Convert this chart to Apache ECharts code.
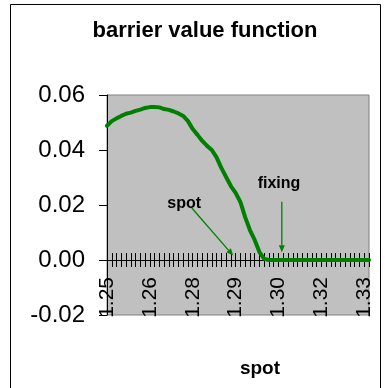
<!DOCTYPE html>
<html>
<head>
<meta charset="utf-8">
<script src="https://cdn.jsdelivr.net/npm/echarts@6/dist/echarts.min.js"></script>
<style>
html,body{margin:0;padding:0;background:#fff;}
#chart{width:385px;height:388px;}
</style>
</head>
<body>
<div id="chart"></div>
<script>
// category values (spot levels)
var categories = [
  1.2500, 1.2515, 1.2530, 1.2545, 1.2560, 1.2575, 1.2590, 1.2605, 1.2620, 1.2635,
  1.2650, 1.2665, 1.2680, 1.2695, 1.2710, 1.2725, 1.2740, 1.2755, 1.2770, 1.2785,
  1.2800, 1.2815, 1.2830, 1.2845, 1.2860, 1.2875, 1.2890, 1.2905, 1.2920, 1.2935,
  1.2950, 1.2965, 1.2980, 1.2995, 1.3010, 1.3025, 1.3040, 1.3055, 1.3070, 1.3085,
  1.3100, 1.3115, 1.3130, 1.3145, 1.3160, 1.3175, 1.3190, 1.3205, 1.3220, 1.3235,
  1.3250, 1.3265, 1.3280, 1.3295, 1.3310, 1.3325
];
// barrier value
var barrierValues = [
  0.0488, 0.0505, 0.0515, 0.0524, 0.0532, 0.0536, 0.0542, 0.0547, 0.0553, 0.0556,
  0.0556, 0.0555, 0.0549, 0.0546, 0.0540, 0.0533, 0.0524, 0.0505, 0.0476, 0.0455,
  0.0433, 0.0415, 0.0400, 0.0373, 0.0335, 0.0302, 0.0269, 0.0244, 0.0211, 0.0156,
  0.0109, 0.0073, 0.0029, 0.0004, 0, 0, 0, 0, 0, 0,
  0, 0, 0, 0, 0, 0, 0, 0, 0, 0,
  0, 0, 0, 0, 0, 0
];
var yMin = -0.02, yMax = 0.06, yStep = 0.02;
// annotations in data units: [category index, value]
var spotLabelPos = [16.2, 0.0204];
var spotArrow = [[17.8, 0.0189], [26.5, 0.0016]];
var fixingLabelPos = [36.1, 0.0277];
var fixingArrow = [[36.7, 0.0212], [36.7, 0.0028]];

var FONT = 'Liberation Sans, Arial, sans-serif';
var GRID_H = 220;
// the category axis crosses the value axis at 0
var zeroOffset = -GRID_H * (0 - yMin) / (yMax - yMin);

var chart = echarts.init(document.getElementById('chart'), null, {renderer: 'canvas'});

var option = {
  backgroundColor: '#ffffff',
  animation: false,
  title: [
    {text: 'barrier value function', left: 205, top: 20, textAlign: 'center', padding: 0,
     textStyle: {fontFamily: FONT, fontSize: 22, fontWeight: 'bold', color: '#000'}},
    {text: 'spot', left: 260, top: 359, textAlign: 'center', padding: 0,
     textStyle: {fontFamily: FONT, fontSize: 19, fontWeight: 'bold', color: '#000'}}
  ],
  grid: {
    left: 107, top: 95, width: 262, height: GRID_H,
    show: true, backgroundColor: '#C0C0C0', borderColor: '#808080', borderWidth: 1,
    containLabel: false
  },
  xAxis: [
    {
      type: 'category', data: categories, boundaryGap: false, position: 'bottom',
      offset: zeroOffset,
      axisLine: {onZero: false, lineStyle: {color: '#000', width: 1}},
      axisTick: {show: true, interval: 0, length: 7, inside: false, lineStyle: {color: '#000'}},
      axisLabel: {
        show: true, interval: 8, rotate: 90, margin: 17,
        fontFamily: FONT, fontSize: 21, color: '#000',
        formatter: function (v) { return Number(v).toFixed(2); }
      },
      splitLine: {show: false}
    },
    {
      type: 'category', data: categories, boundaryGap: false, position: 'bottom',
      offset: zeroOffset,
      axisLine: {show: false, onZero: false},
      axisTick: {show: true, interval: 0, length: 7, inside: true, lineStyle: {color: '#000'}},
      axisLabel: {show: false},
      splitLine: {show: false}
    }
  ],
  yAxis: {
    type: 'value', min: yMin, max: yMax, interval: yStep,
    axisLine: {show: true, onZero: false, lineStyle: {color: '#000', width: 1}},
    axisTick: {show: true, length: 8, lineStyle: {color: '#000'}},
    axisLabel: {
      margin: 22, fontFamily: FONT, fontSize: 24, color: '#000',
      formatter: function (v) { return v.toFixed(2); }
    },
    splitLine: {show: false}
  },
  series: [{
    type: 'line', xAxisIndex: 0, data: barrierValues,
    showSymbol: false, symbol: 'none',
    lineStyle: {color: '#008000', width: 4, join: 'round', cap: 'round'},
    z: 5
  }]
};
chart.setOption(option);

function px(p) {
  var x0 = chart.convertToPixel({xAxisIndex: 0}, 0);
  var xN = chart.convertToPixel({xAxisIndex: 0}, categories.length - 1);
  var x = x0 + (xN - x0) * p[0] / (categories.length - 1);
  var y = chart.convertToPixel({yAxisIndex: 0}, p[1]);
  return [x, y];
}
function arrow(a, b) {
  var p0 = px(a), p1 = px(b);
  var dx = p1[0] - p0[0], dy = p1[1] - p0[1];
  var len = Math.sqrt(dx * dx + dy * dy), ux = dx / len, uy = dy / len;
  var hl = 7, hw = 3;
  var bx = p1[0] - ux * hl, by = p1[1] - uy * hl;
  return [
    {type: 'line', shape: {x1: p0[0], y1: p0[1], x2: bx, y2: by},
     style: {stroke: '#008000', lineWidth: 1.3}, z: 10},
    {type: 'polygon', shape: {points: [[p1[0], p1[1]], [bx - uy * hw, by + ux * hw], [bx + uy * hw, by - ux * hw]]},
     style: {fill: '#008000'}, z: 10}
  ];
}
var sp = px(spotLabelPos), fp = px(fixingLabelPos);
var graphics = [
  {type: 'rect', shape: {x: 10.5, y: 4.5, width: 370, height: 400},
   style: {fill: 'none', stroke: '#000', lineWidth: 1}, z: 0, silent: true},
  {type: 'text', x: sp[0], y: sp[1], z: 10,
   style: {text: 'spot', fontFamily: FONT, fontSize: 16, fontWeight: 'bold', fill: '#000', align: 'center', verticalAlign: 'middle'}},
  {type: 'text', x: fp[0], y: fp[1], z: 10,
   style: {text: 'fixing', fontFamily: FONT, fontSize: 16, fontWeight: 'bold', fill: '#000', align: 'center', verticalAlign: 'middle'}}
].concat(arrow(spotArrow[0], spotArrow[1])).concat(arrow(fixingArrow[0], fixingArrow[1]));
chart.setOption({graphic: graphics});
</script>
</body>
</html>
